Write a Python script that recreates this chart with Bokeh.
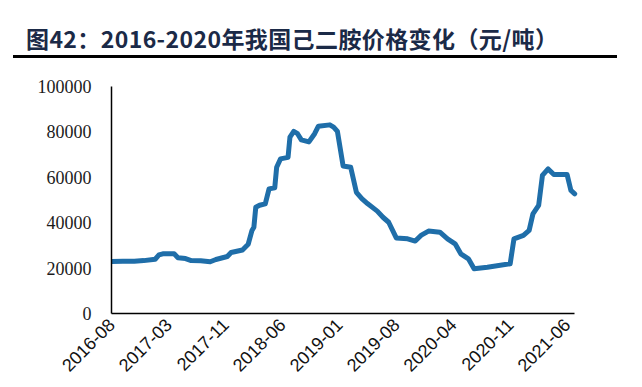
import math
from bokeh.plotting import figure
from bokeh.models import Range1d, FixedTicker, Div, NumeralTickFormatter
from bokeh.layouts import column
from bokeh.embed import file_html
from bokeh.resources import INLINE

title_text = "图42：2016-2020年我国己二胺价格变化（元/吨）"

# position of each observation along the category axis (observation number)
point_index = [0, 6, 12, 17, 23, 25, 27, 33, 35, 39, 42, 47, 52, 55, 61, 63, 69, 72,
               74, 75, 76, 78, 81, 83, 86, 87, 89, 93, 94, 96, 98, 100, 104, 107, 109,
               115, 117, 119, 122, 126, 129, 132, 135, 140, 143, 146, 150, 156, 160,
               163, 167, 173, 177, 181, 184, 188, 191, 198, 210, 212, 217, 220, 222,
               225, 227, 230, 233, 240, 242, 244]
price = [22900, 23000, 23000, 23300, 23900, 25800, 26300, 26300, 24600, 24200, 23300,
         23200, 22800, 23800, 25100, 26900, 28000, 30500, 36600, 38000, 46800, 47700,
         48300, 54900, 55400, 64400, 68100, 68800, 77700, 80200, 79200, 76500, 75600,
         79200, 82500, 83100, 82100, 80200, 65000, 64400, 53400, 50500, 48300, 45100,
         42400, 40200, 33300, 32900, 31900, 34400, 36300, 35800, 32900, 30700, 26300,
         24100, 19700, 20400, 21900, 32900, 34400, 36600, 43900, 47600, 60800, 63700,
         61200, 61200, 54200, 52700]

tick_index = [0, 30, 60, 90, 120, 150, 180, 210, 240]
tick_labels = ["2016-08", "2017-03", "2017-11", "2018-06", "2019-01",
               "2019-08", "2020-04", "2020-11", "2021-06"]
y_ticks = [0, 20000, 40000, 60000, 80000, 100000]

title_div = Div(
    text=('<div style="padding:17px 0 0 13px;line-height:27px;white-space:nowrap;'
          'font-family:\'Noto Sans CJK SC\';font-weight:bold;font-size:23px;'
          'letter-spacing:0.4px;color:#1b2a47;">' + title_text + '</div>'),
    width=604, height=50, margin=(8, 0, 0, 13),
    styles={"border-bottom": "3px solid #000000", "box-sizing": "border-box"},
)

p = figure(width=608, height=327, output_backend="svg", toolbar_location=None,
           x_range=Range1d(0, 246), y_range=Range1d(0, 100000))
p.min_border_left = 111
p.min_border_right = 30
p.min_border_top = 28
p.min_border_bottom = 72
p.outline_line_color = None
p.xgrid.grid_line_color = None
p.ygrid.grid_line_color = None
p.background_fill_color = "white"
p.border_fill_color = "white"

p.line(point_index, price, line_color="#1f6ea9", line_width=5,
       line_join="round", line_cap="round")

xa = p.xaxis[0]
xa.ticker = FixedTicker(ticks=tick_index)
xa.major_label_overrides = {t: lab for t, lab in zip(tick_index, tick_labels)}
xa.bounds = (0, 244)
xa.major_label_orientation = math.pi / 4
xa.major_tick_line_color = None
xa.major_tick_out = 0
xa.major_tick_in = 0
xa.minor_tick_line_color = None
xa.minor_tick_out = 0
xa.axis_line_color = "#000000"
xa.axis_line_width = 1.5
xa.major_label_standoff = 8
xa.major_label_text_font = "Liberation Sans"
xa.major_label_text_font_size = "18px"
xa.major_label_text_color = "#111111"

ya = p.yaxis[0]
ya.ticker = FixedTicker(ticks=y_ticks)
ya.formatter = NumeralTickFormatter(format="0")
ya.major_tick_line_color = None
ya.major_tick_out = 0
ya.major_tick_in = 0
ya.minor_tick_line_color = None
ya.minor_tick_out = 0
ya.axis_line_color = "#000000"
ya.axis_line_width = 1.5
ya.major_label_standoff = 20
ya.major_label_text_font = "Liberation Serif"
ya.major_label_text_font_size = "18px"
ya.major_label_text_color = "#1b1b1b"

layout = column(title_div, p)
open("out.html", "w").write(file_html(layout, INLINE))
